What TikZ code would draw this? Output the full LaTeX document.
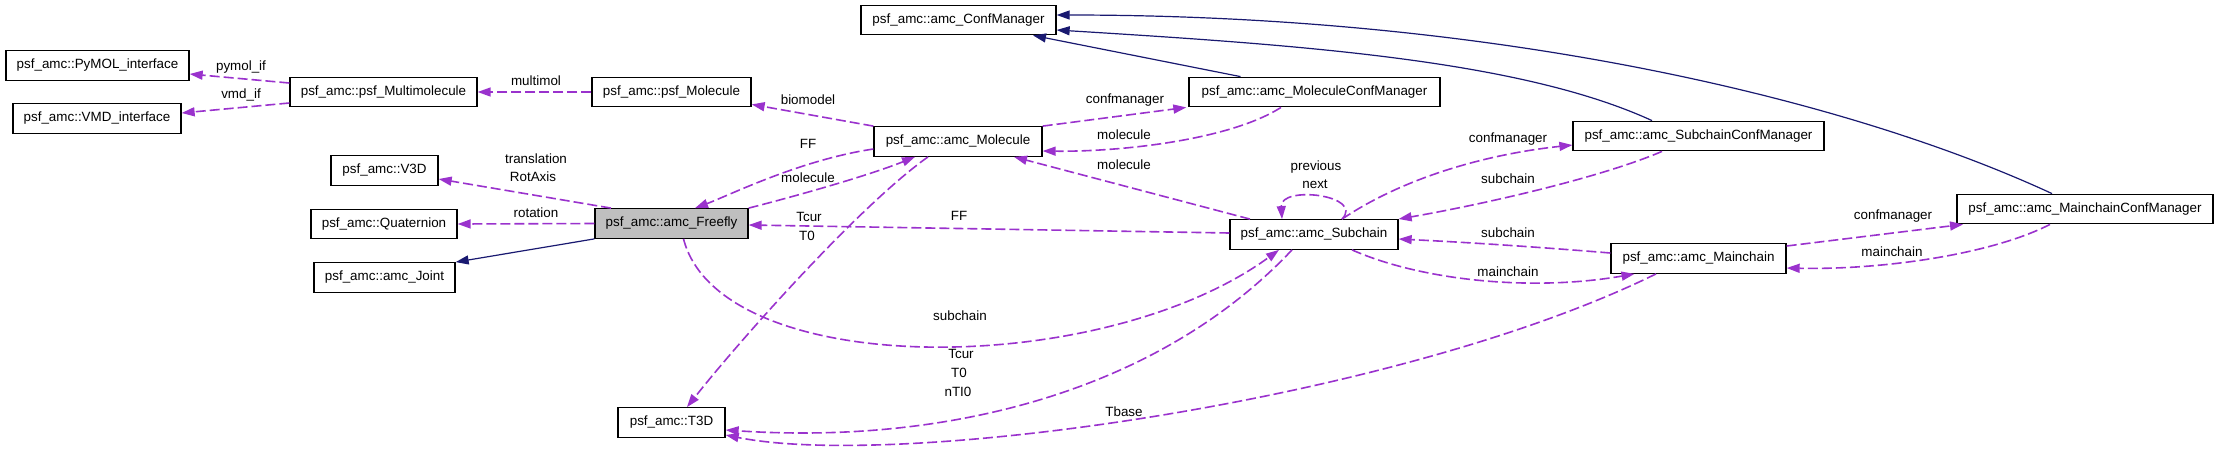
\documentclass[tikz,border=0pt]{standalone}
\usepackage{fontspec}
\setmainfont{Liberation Sans}
\usetikzlibrary{arrows.meta}
\definecolor{relc}{HTML}{9A32CD}
\definecolor{inhc}{HTML}{191970}
\definecolor{curc}{HTML}{BFBFBF}
\begin{document}
\begin{tikzpicture}[x=1pt,y=-1pt,
  cls/.style={draw=black, line width=1.3pt, fill=white, minimum height=29.5pt, inner sep=0pt, font=\fontsize{13.4}{16}\selectfont},
  lbl/.style={inner sep=0pt, font=\fontsize{13.4}{16}\selectfont},
  rel/.style={draw=relc, line width=1.6pt, dash pattern=on 10pt off 4pt, -{Triangle[length=13pt,width=9pt]}},
  inh/.style={draw=inhc, line width=1.2pt, -{Triangle[length=13pt,width=9pt]}}]
\useasboundingbox (0,0) rectangle (2219,451);
% classes
\node[cls, minimum width=183pt] (pymol) at (97.5,65.5) {psf\_amc::PyMOL\_interface};
\node[cls, minimum width=168pt] (vmd) at (97,118.5) {psf\_amc::VMD\_interface};
\node[cls, minimum width=187pt] (multimol) at (383.5,92) {psf\_amc::psf\_Multimolecule};
\node[cls, minimum width=159pt] (psfmol) at (671.5,92) {psf\_amc::psf\_Molecule};
\node[cls, minimum width=107pt] (v3d) at (384.5,170.5) {psf\_amc::V3D};
\node[cls, minimum width=146pt] (quat) at (384,224) {psf\_amc::Quaternion};
\node[cls, minimum width=153pt, fill=curc] (freefly) at (671.5,223.5) {psf\_amc::amc\_Freefly};
\node[cls, minimum width=141pt] (joint) at (384.5,277.5) {psf\_amc::amc\_Joint};
\node[cls, minimum width=107pt] (t3d) at (671.5,422.5) {psf\_amc::T3D};
\node[cls, minimum width=195pt] (confmgr) at (958.5,20) {psf\_amc::amc\_ConfManager};
\node[cls, minimum width=251pt] (molcm) at (1314.5,92) {psf\_amc::amc\_MoleculeConfManager};
\node[cls, minimum width=168pt] (amcmol) at (958,141.5) {psf\_amc::amc\_Molecule};
\node[cls, minimum width=168pt] (subchain) at (1314,234.5) {psf\_amc::amc\_Subchain};
\node[cls, minimum width=251pt] (scm) at (1698.5,136) {psf\_amc::amc\_SubchainConfManager};
\node[cls, minimum width=175pt] (mainchain) at (1698.5,258.5) {psf\_amc::amc\_Mainchain};
\node[cls, minimum width=256pt] (maincm) at (2085,209) {psf\_amc::amc\_MainchainConfManager};
% connectors
\draw[rel] ([yshift=9pt]multimol.west) -- ([yshift=-8.5pt]pymol.east);
\draw[rel] ([yshift=-11pt]multimol.west) -- ([yshift=5.5pt]vmd.east);
\draw[rel] (psfmol.west) -- (multimol.east);
\draw[rel] (amcmol.north west) -- ([yshift=3pt]psfmol.south east);
\draw[rel] ([yshift=-7.5pt]amcmol.west) .. controls (800,160) and (730,195) .. ([xshift=23.5pt]freefly.north);
\draw[rel] (freefly.north east) .. controls (800,195) and (870,175) .. ([xshift=-43pt]amcmol.south);
\draw[rel] ([xshift=-60.5pt]freefly.north) -- ([yshift=-8.5pt]v3d.east);
\draw[rel] (freefly.west) -- (quat.east);
\draw[inh] (freefly.south west) -- (joint.north east);
\draw[rel] ([xshift=-30pt]amcmol.south) .. controls (860,205) and (740,340) .. ([xshift=15.5pt]t3d.north);
\draw[rel] ([yshift=1.5pt]subchain.west) -- ([yshift=-1.5pt]freefly.east);
\draw[rel] ([xshift=12pt]freefly.south) .. controls (720,380) and (1100,380) .. ([xshift=-35pt]subchain.south);
\draw[rel] ([xshift=-22pt]subchain.south) .. controls (1160,390) and (950,445) .. ([yshift=-7.5pt]t3d.east);
\draw[rel] ([xshift=-42.5pt]mainchain.south) .. controls (1400,400) and (900,470) .. ([yshift=-12.5pt]t3d.east);
\draw[rel] (amcmol.north east) -- ([xshift=-2pt]molcm.south west);
\draw[rel] ([xshift=-33.5pt]molcm.south) .. controls (1230,140) and (1120,152) .. ([yshift=-9.5pt]amcmol.east);
\draw[inh] ([xshift=-74pt]molcm.north) -- ([xshift=74.5pt]confmgr.south);
\draw[inh] ([xshift=-46.5pt]scm.north) .. controls (1520,60) and (1300,45) .. ([yshift=-10pt]confmgr.east);
\draw[inh] ([xshift=-33pt]maincm.north) .. controls (1850,100) and (1500,15) .. ([yshift=5pt]confmgr.east);
\draw[rel] ([xshift=-64pt]subchain.north) -- ([xshift=56pt]amcmol.south);
\draw[rel] ([xshift=28pt]subchain.north) .. controls (1365,195) and (1280,185) .. ([xshift=-32pt]subchain.north);
\draw[rel] ([xshift=28pt]subchain.north) .. controls (1400,180) and (1480,155) .. ([yshift=-9pt]scm.west);
\draw[rel] ([xshift=-36.5pt]scm.south) .. controls (1600,178) and (1480,205) .. ([yshift=15.5pt]subchain.east);
\draw[rel] ([yshift=5.5pt]mainchain.west) .. controls (1550,248) and (1480,243) .. ([yshift=-4.5pt]subchain.east);
\draw[rel] ([xshift=38pt]subchain.south) .. controls (1420,280) and (1530,292) .. ([xshift=-64pt]mainchain.south);
\draw[rel] ([yshift=12.5pt]mainchain.east) -- ([xshift=-122pt]maincm.south);
\draw[rel] ([xshift=-35pt]maincm.south) .. controls (1990,255) and (1880,270) .. ([yshift=-9.5pt]mainchain.east);
% labels
\node[lbl] (l1) at (241,67) {pymol\_if};
\node[lbl] (l2) at (241,95) {vmd\_if};
\node[lbl] (l3) at (536,81) {multimol};
\node[lbl] (l4) at (808,100) {biomodel};
\node[lbl] (l5) at (808,144) {FF};
\node[lbl] (l6) at (808,178) {molecule};
\node[lbl] (l7) at (536,159) {translation};
\node[lbl] (l8) at (533,177) {RotAxis};
\node[lbl] (l9) at (536,213) {rotation};
\node[lbl] (l10) at (809,217) {Tcur};
\node[lbl] (l11) at (807,236) {T0};
\node[lbl] (l12) at (959,216) {FF};
\node[lbl] (l13) at (960,316) {subchain};
\node[lbl] (l14) at (961,354) {Tcur};
\node[lbl] (l15) at (959,373) {T0};
\node[lbl] (l16) at (958,392) {nTI0};
\node[lbl] (l17) at (1124,412) {Tbase};
\node[lbl] (l18) at (1125,100) {confmanager};
\node[lbl] (l19) at (1124,135) {molecule};
\node[lbl] (l20) at (1124,165) {molecule};
\node[lbl] (l21) at (1316,167) {previous};
\node[lbl] (l22) at (1315,184) {next};
\node[lbl] (l23) at (1508,139) {confmanager};
\node[lbl] (l24) at (1508,179) {subchain};
\node[lbl] (l25) at (1508,233) {subchain};
\node[lbl] (l26) at (1508,272) {mainchain};
\node[lbl] (l27) at (1893,216) {confmanager};
\node[lbl] (l28) at (1892,252) {mainchain};
\end{tikzpicture}
\end{document}
